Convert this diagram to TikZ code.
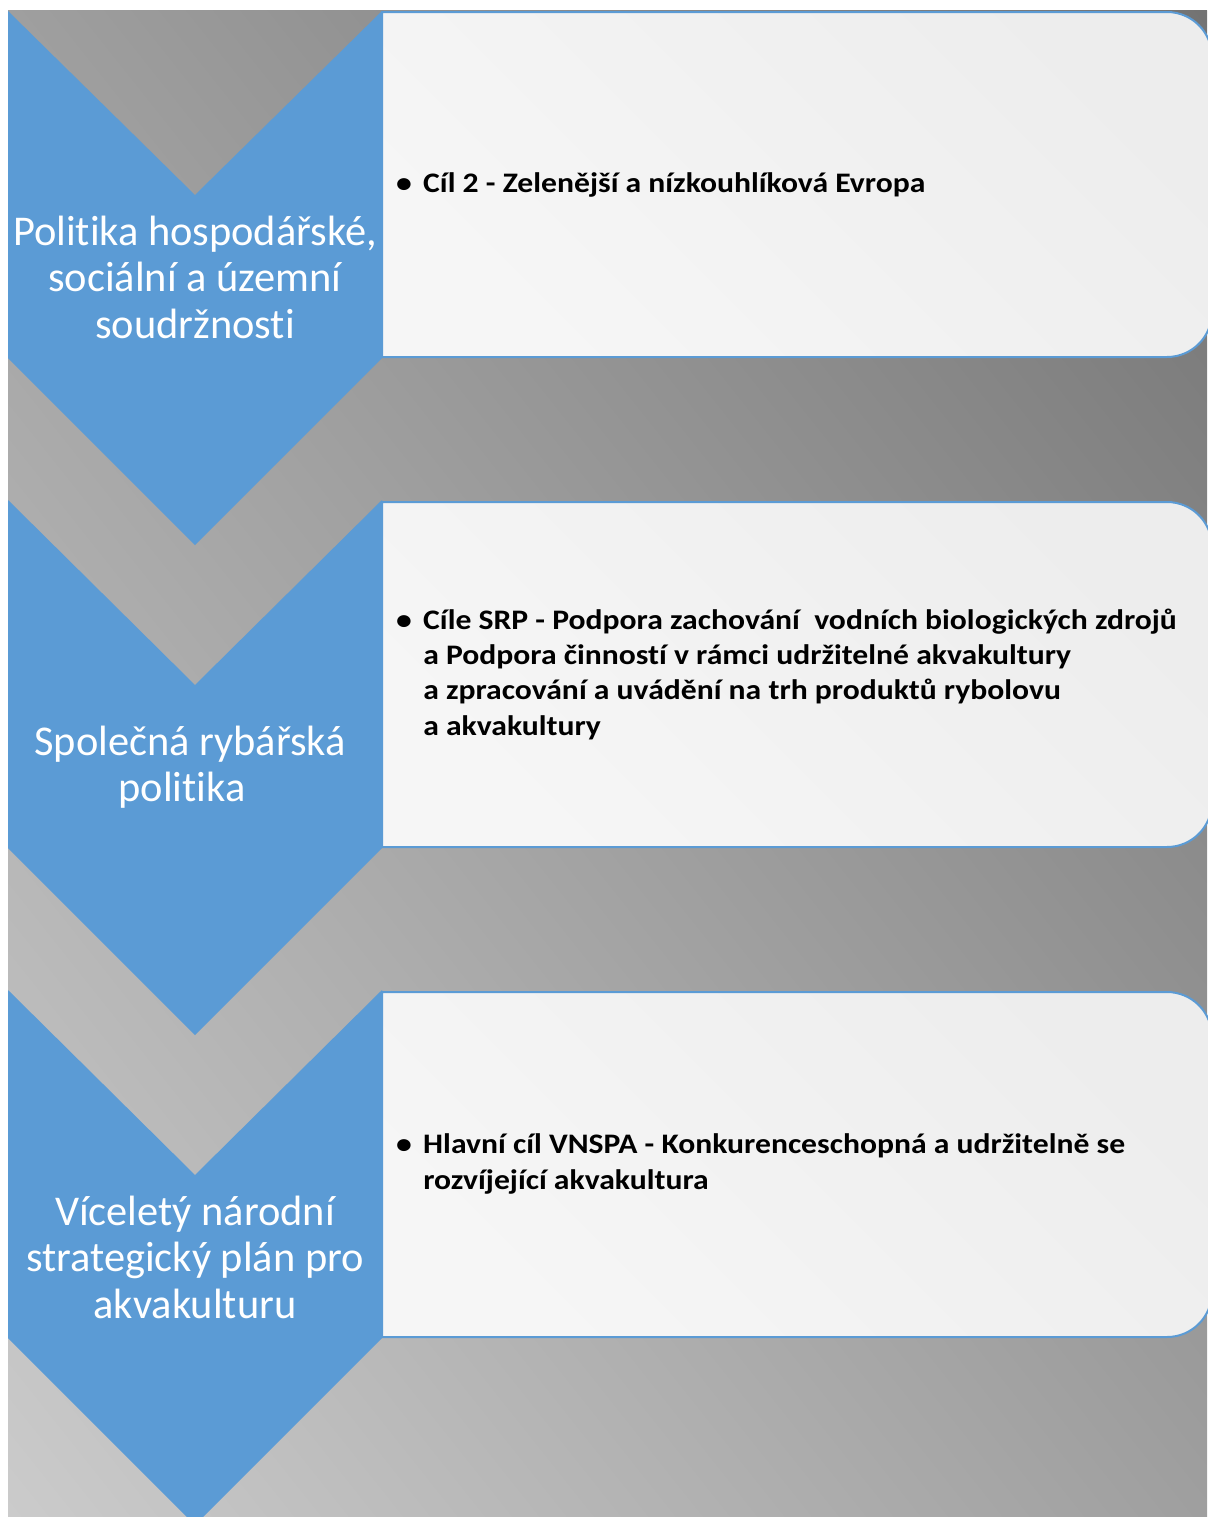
\documentclass[tikz,border=0pt]{standalone}
\usepackage{fontspec}
\setmainfont{Carlito}[Ligatures=NoCommon]
\newfontfamily\boxfont{Carlito}[FakeStretch=1.12, Ligatures=NoCommon]
\definecolor{chevblue}{HTML}{5B9BD5}
\definecolor{bgdark}{HTML}{737373}
\definecolor{bgmid}{HTML}{A7A7A7}
\definecolor{bglight}{HTML}{CBCBCB}
\definecolor{boxdark}{HTML}{EDEDED}
\definecolor{boxlight}{HTML}{F6F6F6}
\begin{document}
\begin{tikzpicture}[x=0.75pt,y=-0.75pt,
  chev/.style={fill=chevblue, draw=none},
  infobox/.style={draw=chevblue, line width=1.5pt, top color=boxdark, bottom color=boxlight, shading angle=-45},
  chevtext/.style={text=white, font=\fontsize{31.8}{34.9}\selectfont, align=center, inner sep=0pt},
  bullettext/.style={font=\boxfont\bfseries\fontsize{21.2}{26.5}\selectfont, align=left, anchor=west, inner sep=0pt, text=black}]
\useasboundingbox (0,0) rectangle (1207,1517);
% background with diagonal gradient (bottom-left light, top-right dark)
\begin{scope}
  \clip (8,10) rectangle (1207,1517);
  \begin{scope}[transform canvas={shift={(607.5,763.5)}, rotate=38.5}]
    \shade[left color=bglight, middle color=bgmid, right color=bgdark] (-938,-1100) rectangle (938,1100);
  \end{scope}
\end{scope}
% info boxes
\path[infobox] (382,357) -- (382,12) [rounded corners=33.75pt] -- (1212,12) -- (1212,357) [sharp corners] -- cycle;
\path[infobox] (382,847) -- (382,502) [rounded corners=33.75pt] -- (1212,502) -- (1212,847) [sharp corners] -- cycle;
\path[infobox] (382,1337) -- (382,992) [rounded corners=33.75pt] -- (1212,992) -- (1212,1337) [sharp corners] -- cycle;
% chevrons
\path[chev] (8,11) -- (195,195) -- (382,11) -- (382,358) -- (195,545) -- (8,358) -- cycle;
\path[chev] (8,500) -- (195,685) -- (382,500) -- (382,848) -- (195,1035) -- (8,848) -- cycle;
\path[chev] (8,990) -- (195,1175) -- (382,990) -- (382,1338) -- (195,1525) -- (8,1338) -- cycle;
% chevron texts
\node[chevtext] (t1) at (195,277) {Politika hospodářské,\\sociální a územní\\soudržnosti};
\node[chevtext] (t2) at (190,767) {Společná rybářská\\\hspace*{-12pt}politika};
\node[chevtext] (t3) at (195,1257) {Víceletý národní\\strategický plán pro\\akvakulturu};
% box texts
\node[bullettext] (b1) at (423,185) {\llap{•\hspace{8.5pt}}Cíl 2 - Zelenější a nízkouhlíková Evropa};
\node[bullettext] (b2) at (423,674) {\llap{•\hspace{8.5pt}}Cíle SRP - Podpora zachování~ vodních biologických zdrojů\\a Podpora činností v rámci udržitelné akvakultury\\a zpracování a uvádění na trh produktů rybolovu\\a akvakultury};
\node[bullettext] (b3) at (423,1164) {\llap{•\hspace{8.5pt}}Hlavní cíl VNSPA - Konkurenceschopná a udržitelně se\\rozvíjející akvakultura};
\end{tikzpicture}
\end{document}
